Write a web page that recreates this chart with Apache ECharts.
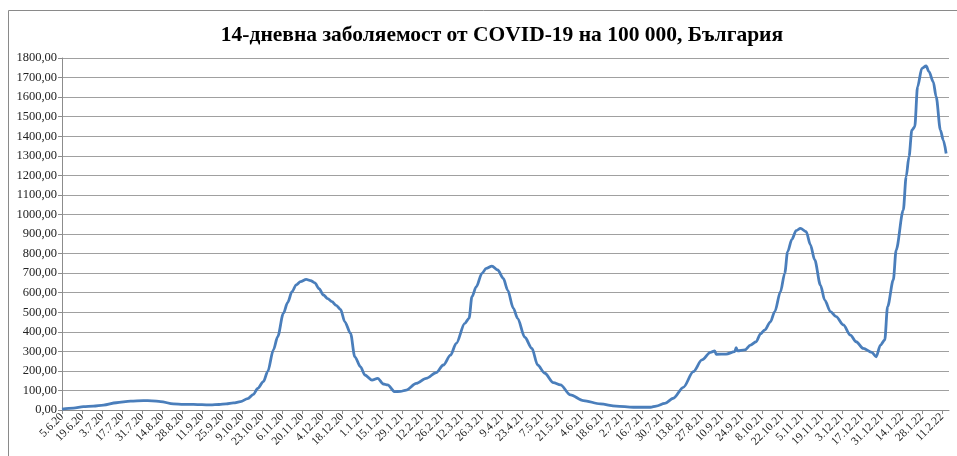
<!DOCTYPE html>
<html>
<head>
<meta charset="utf-8">
<script src="https://cdn.jsdelivr.net/npm/echarts@6/dist/echarts.min.js"></script>
<style>
  html, body { margin: 0; padding: 0; background: #fff; }
  #chart { width: 957px; height: 456px; }
</style>
</head>
<body>
<div id="chart"></div>
<script>
// tick labels, one every 14 days starting 5.6.20
const tickLabels = [
  '5.6.20', '19.6.20', '3.7.20', '17.7.20', '31.7.20', '14.8.20', '28.8.20', '11.9.20',
  '25.9.20', '9.10.20', '23.10.20', '6.11.20', '20.11.20', '4.12.20', '18.12.20', '1.1.21',
  '15.1.21', '29.1.21', '12.2.21', '26.2.21', '12.3.21', '26.3.21', '9.4.21', '23.4.21',
  '7.5.21', '21.5.21', '4.6.21', '18.6.21', '2.7.21', '16.7.21', '30.7.21', '13.8.21',
  '27.8.21', '10.9.21', '24.9.21', '8.10.21', '22.10.21', '5.11.21', '19.11.21', '3.12.21',
  '17.12.21', '31.12.21', '14.1.22', '28.1.22', '11.2.22'
];

// days since 5.6.20 and the 14-day incidence
const days = [
  0, 8, 15, 22, 29, 38, 48, 57, 63, 69, 78, 85, 92, 98, 104, 110, 115, 120, 125, 130,
  134, 137, 141, 144, 148, 151, 155, 158, 161, 164, 167, 171, 174, 177, 180, 183, 186, 189, 192, 195,
  198, 202, 205, 209, 212, 217, 221, 225, 228, 233, 237, 241, 248, 255, 262, 267, 272, 276, 282, 285,
  287, 290, 294, 297, 301, 305, 309, 312, 316, 319, 324, 329, 333, 338, 344, 349, 356, 365, 377, 388,
  400, 412, 416, 422, 428, 435, 442, 448, 454, 457, 458, 465, 471, 472, 473, 478, 482, 486, 489, 492,
  496, 499, 503, 506, 508, 511, 514, 517, 521, 524, 527, 531, 534, 538, 542, 547, 552, 556, 561, 567,
  570, 573, 576, 578, 582, 584, 589, 591, 593, 595, 597, 599, 602, 605, 607, 610, 612, 615, 617, 619
];
const incidence = [
  5, 10, 17, 20, 25, 37, 45, 48, 47, 43, 31, 29, 29, 27, 26, 28, 31, 36, 43, 58,
  80, 110, 145, 196, 307, 375, 494, 550, 605, 640, 656, 668, 662, 650, 620, 588, 570, 554, 535, 515,
  451, 392, 272, 221, 179, 153, 162, 133, 128, 94, 95, 102, 136, 162, 191, 230, 281, 341, 443, 469,
  579, 630, 699, 724, 736, 716, 673, 613, 520, 469, 372, 315, 230, 188, 140, 128, 77, 48, 31, 20,
  14, 14, 20, 34, 60, 116, 196, 256, 295, 302, 285, 286, 298, 319, 302, 307, 332, 349, 389, 409,
  451, 503, 605, 699, 809, 873, 917, 929, 912, 844, 767, 639, 562, 503, 477, 435, 383, 349, 315, 295,
  272, 332, 358, 528, 665, 818, 1022, 1193, 1295, 1431, 1448, 1653, 1747, 1759, 1730, 1678, 1602, 1431, 1380, 1312
];

const tickDays = tickLabels.map((_, i) => i * 14);
const points = days.map((d, i) => [d, incidence[i]]);

const chart = echarts.init(document.getElementById('chart'));

const option = {
  animation: false,
  title: {
    text: '14-дневна заболяемост от COVID-19 на 100 000, България',
    left: 497,
    top: 19,
    textAlign: 'center',
    textStyle: {
      fontFamily: 'Liberation Serif',
      fontWeight: 'bold',
      fontSize: 21.5,
      color: '#000'
    }
  },
  graphic: [
    {
      type: 'rect',
      shape: { x: 8.5, y: 10.5, width: 960, height: 460 },
      style: { fill: 'none', stroke: '#8a8a8a', lineWidth: 1 },
      silent: true
    }
  ],
  grid: {
    left: 62,
    right: 8,
    top: 58,
    bottom: 46
  },
  xAxis: {
    type: 'value',
    min: 0,
    max: 621,
    interval: 14,
    axisLine: { lineStyle: { color: '#8c8c8c', width: 1 } },
    axisTick: {
      length: 4,
      customValues: tickDays,
      lineStyle: { color: '#8c8c8c' }
    },
    splitLine: { show: false },
    axisLabel: {
      customValues: tickDays,
      rotate: 45,
      margin: 5,
      fontFamily: 'Liberation Serif',
      fontSize: 11.5,
      color: '#222',
      formatter: v => tickLabels[Math.round(v / 14)] || ''
    }
  },
  yAxis: {
    type: 'value',
    min: 0,
    max: 1800,
    interval: 100,
    axisLine: { show: true, lineStyle: { color: '#8c8c8c', width: 1 } },
    axisTick: { show: true, length: 4, lineStyle: { color: '#8c8c8c' } },
    splitLine: { lineStyle: { color: '#a0a0a0', width: 1.2 } },
    axisLabel: {
      margin: 5,
      fontFamily: 'Liberation Serif',
      fontSize: 12.5,
      color: '#222',
      formatter: v => v.toFixed(2).replace('.', ',')
    }
  },
  series: [
    {
      type: 'line',
      data: points,
      showSymbol: false,
      smooth: 0.3,
      smoothMonotone: 'x',
      lineStyle: { color: '#4a7ebb', width: 2.8 }
    }
  ]
};

chart.setOption(option);
</script>
</body>
</html>
